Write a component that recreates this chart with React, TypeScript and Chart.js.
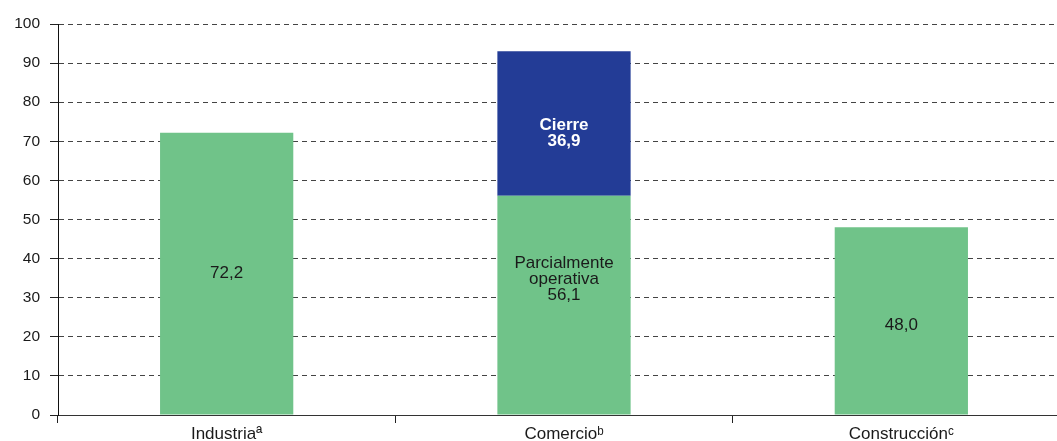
import React, { useEffect, useRef } from "react";
import { Chart, registerables } from "chart.js";

Chart.register(...registerables);

const categories = ["Industria\u00AA", "Comercio\u1D47", "Construcción\u1D9C"];
const partialValues = [72.2, 56.1, 48.0];
const closedValues = [null, 36.9, null];
const partialLabels = [["72,2"], ["Parcialmente", "operativa", "56,1"], ["48,0"]];
const closedLabels = [null, ["Cierre", "36,9"], null];
const yTicks = [0, 10, 20, 30, 40, 50, 60, 70, 80, 90, 100];

const GREEN = "#70c389";
const BLUE = "#233c96";
const FONT = "'Liberation Sans', Arial, sans-serif";

// vertical text nudges (px) relative to each bar segment's center
const labelNudges = [
  [0, -26, 4],
  [0, 10, 0],
];

const barLabelPlugin = {
  id: "barLabels",
  afterDatasetsDraw(chart: any) {
    const ctx = chart.ctx;
    const sets = [
      { labels: partialLabels, color: "#1a1a1a", weight: "normal" },
      { labels: closedLabels, color: "#ffffff", weight: "bold" },
    ];
    sets.forEach((s, di) => {
      const meta = chart.getDatasetMeta(di);
      meta.data.forEach((el: any, i: number) => {
        const lines = s.labels[i];
        if (!lines) return;
        const cx = el.x;
        const cy = (el.y + el.base) / 2 + labelNudges[di][i];
        const lh = 16;
        ctx.save();
        ctx.fillStyle = s.color;
        ctx.font = `${s.weight} 17px ${FONT}`;
        ctx.textAlign = "center";
        ctx.textBaseline = "middle";
        const start = cy - ((lines.length - 1) * lh) / 2;
        lines.forEach((t: string, k: number) => ctx.fillText(t, cx, start + k * lh));
        ctx.restore();
      });
    });
  },
};

export default function App() {
  const ref = useRef<HTMLCanvasElement | null>(null);
  useEffect(() => {
    if (!ref.current) return;
    const chart = new Chart(ref.current, {
      type: "bar",
      data: {
        labels: categories,
        datasets: [
          {
            label: "Parcialmente operativa",
            data: partialValues,
            backgroundColor: GREEN,
            barPercentage: 0.395,
            categoryPercentage: 1,
          },
          {
            label: "Cierre",
            data: closedValues as any,
            backgroundColor: BLUE,
            barPercentage: 0.395,
            categoryPercentage: 1,
          },
        ],
      },
      options: {
        responsive: false,
        animation: false,
        layout: { padding: { top: 24, left: 0, right: 0, bottom: 0 } },
        plugins: { legend: { display: false }, tooltip: { enabled: false } },
        scales: {
          x: {
            stacked: true,
            offset: true,
            grid: {
              offset: true,
              drawOnChartArea: false,
              drawTicks: true,
              tickLength: 8,
              color: "#222",
            },
            border: { display: true, color: "#333", width: 1 },
            ticks: {
              color: "#1a1a1a",
              font: { family: FONT, size: 17 },
              padding: 1,
            },
            afterFit(scale: any) {
              scale.height = 26;
            },
          },
          y: {
            stacked: true,
            min: 0,
            max: 100,
            afterBuildTicks(scale: any) {
              scale.ticks = yTicks.map((v) => ({ value: v }));
            },
            grid: {
              color: "#444",
              tickLength: 8,
              drawTicks: true,
              tickBorderDash: [],
              tickColor: "#222",
            },
            border: { display: true, color: "#111", width: 1, dash: [5, 4] },
            ticks: {
              color: "#1a1a1a",
              font: { family: FONT, size: 15.5 },
              padding: 10,
            },
            afterFit(scale: any) {
              scale.width = 58;
            },
          },
        },
      },
      plugins: [barLabelPlugin],
    });
    return () => chart.destroy();
  }, []);
  return (
    <div
      style={{
        position: "fixed",
        left: 0,
        top: 0,
        width: 1057,
        height: 441,
        overflow: "hidden",
        background: "#fff",
      }}
    >
      <canvas ref={ref} width={1070} height={441} style={{ display: "block", width: 1070, height: 441 }} />
    </div>
  );
}
